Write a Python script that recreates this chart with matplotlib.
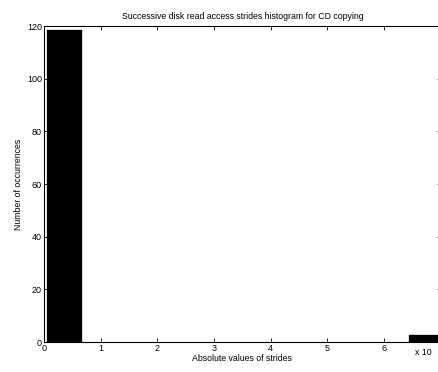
import numpy as np
import matplotlib
matplotlib.use("Agg")
import matplotlib.pyplot as plt

# histogram data (bins in units of 10^n, counts)
bin_start = 0.03
bin_width = 0.639
counts = [119, 0, 0, 0, 0, 0, 0, 0, 0, 0, 3]
xticks = [0, 1, 2, 3, 4, 5, 6]
yticks = [0, 20, 40, 60, 80, 100, 120]

plt.rcParams['font.family'] = ['Liberation Sans', 'DejaVu Sans']

fig = plt.figure(figsize=(4.39, 3.72), dpi=100)
ax = fig.add_axes([0.1002, 0.0806, 0.904, 0.8495])

lefts = bin_start + bin_width * np.arange(len(counts))
ax.bar(lefts, counts, width=bin_width, align='edge', color='black',
       edgecolor='white', linewidth=0.5)

ax.set_xlim(0, 7)
ax.set_ylim(0, 120)
ax.set_xticks(xticks)
ax.set_yticks(yticks)
ax.tick_params(direction='in', length=3, width=0.6, labelsize=6.5,
               top=True, right=True, pad=1.5)
for s in ax.spines.values():
    s.set_linewidth(0.8)

ax.set_title('Successive disk read access strides histogram for CD copying',
             fontsize=6.3, pad=5)
ax.set_xlabel('Absolute values of strides', fontsize=6.3, labelpad=1)
ax.set_ylabel('Number of occurrences', fontsize=6.3, labelpad=3)
fig.text(0.945, 0.045, 'x 10', fontsize=6.3)

fig.savefig('out.png', dpi=100)
